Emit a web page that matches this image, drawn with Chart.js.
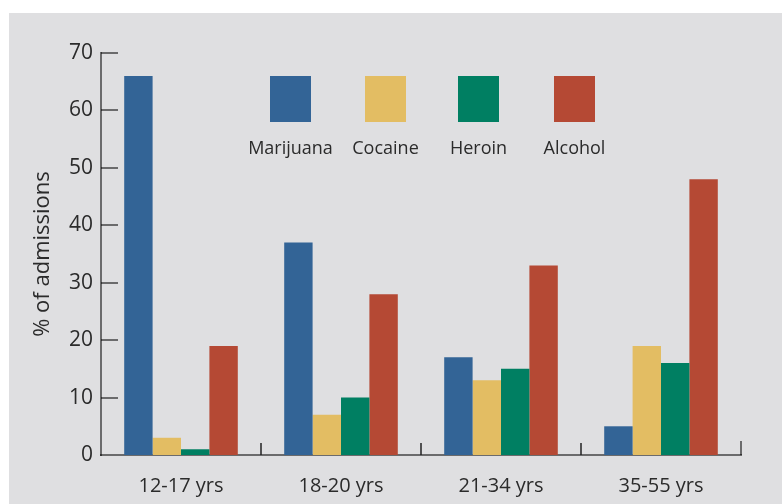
<!DOCTYPE html>
<html>
<head>
<meta charset="utf-8">
<script src="https://cdn.jsdelivr.net/npm/chart.js@4/dist/chart.umd.min.js"></script>
<style>
  html, body { margin: 0; padding: 0; background: #ffffff; }
  #wrap { width: 782px; height: 504px; }
</style>
</head>
<body>
<div id="wrap"><canvas id="admChart"></canvas></div>
<script>
// data
var ageGroups = ['12-17 yrs', '18-20 yrs', '21-34 yrs', '35-55 yrs'];
var marijuana = [66, 37, 17, 5];
var cocaine   = [3, 7, 13, 19];
var heroin    = [1, 10, 15, 16];
var alcohol   = [19, 28, 33, 48];
var yTicks    = [0, 10, 20, 30, 40, 50, 60, 70];

var FONT = "'Open Sans', 'DejaVu Sans', sans-serif";
var AXIS = 'rgba(0,0,0,0.52)';

// grey panel behind everything
var panelPlugin = {
	id: 'panel',
	beforeDraw: function(chart) {
		var ctx = chart.ctx;
		ctx.save();
		ctx.fillStyle = '#dfdfe1';
		ctx.fillRect(9, 13, chart.width - 9, chart.height - 13);
		ctx.restore();
	}
};

// inward ticks on y, group separators on x
var ticksPlugin = {
	id: 'axisTicks',
	afterDatasetsDraw: function(chart) {
		var ctx = chart.ctx;
		var area = chart.chartArea;
		var y = chart.scales.y;
		var x = chart.scales.x;
		ctx.save();
		ctx.strokeStyle = AXIS;
		ctx.lineWidth = 2;
		yTicks.forEach(function(v) {
			if (v === 0) return;
			var py = Math.round(y.getPixelForValue(v));
			ctx.beginPath();
			ctx.moveTo(area.left, py);
			ctx.lineTo(area.left + 17, py);
			ctx.stroke();
		});
		ctx.strokeStyle = '#222';
		ctx.lineWidth = 1.5;
		for (var i = 0; i < ageGroups.length - 1; i++) {
			var px = (x.getPixelForValue(i) + x.getPixelForValue(i + 1)) / 2;
			ctx.beginPath();
			ctx.moveTo(px, area.bottom - 12);
			ctx.lineTo(px, area.bottom);
			ctx.stroke();
		}
		ctx.strokeStyle = AXIS;
		ctx.lineWidth = 2;
		ctx.beginPath();
		ctx.moveTo(area.right, area.bottom - 14);
		ctx.lineTo(area.right, area.bottom);
		ctx.stroke();
		ctx.restore();
	}
};

// legend: squares with label underneath
var legendPlugin = {
	id: 'boxLegend',
	afterDraw: function(chart) {
		var ctx = chart.ctx;
		var boxX = [270, 365, 458, 554];
		ctx.save();
		ctx.font = '18px ' + FONT;
		ctx.textAlign = 'center';
		ctx.textBaseline = 'middle';
		chart.data.datasets.forEach(function(ds, i) {
			ctx.fillStyle = ds.backgroundColor;
			ctx.fillRect(boxX[i], 76, 41, 46);
			ctx.fillStyle = '#2b2b2b';
			ctx.fillText(ds.label, boxX[i] + 20.5, 149);
		});
		ctx.restore();
	}
};

new Chart(document.getElementById('admChart'), {
	type: 'bar',
	data: {
		labels: ageGroups,
		datasets: [
			{ label: 'Marijuana', data: marijuana, backgroundColor: '#336496' },
			{ label: 'Cocaine',   data: cocaine,   backgroundColor: '#e3bd63' },
			{ label: 'Heroin',    data: heroin,    backgroundColor: '#007f62' },
			{ label: 'Alcohol',   data: alcohol,   backgroundColor: '#b54934' }
		]
	},
	plugins: [panelPlugin, ticksPlugin, legendPlugin],
	options: {
		responsive: true,
		maintainAspectRatio: false,
		animation: false,
		datasets: {
			bar: { categoryPercentage: 0.71, barPercentage: 1.0 }
		},
		layout: { padding: { top: 53, right: 41, left: 0, bottom: 0 } },
		plugins: {
			legend: { display: false },
			tooltip: { enabled: false }
		},
		scales: {
			x: {
				z: 1,
				grid: { display: false },
				border: { display: true, color: AXIS, width: 2 },
				ticks: {
					color: '#2b2b2b',
					font: { family: FONT, size: 20 },
					padding: 11
				},
				afterFit: function(scale) { scale.height = 49; }
			},
			y: {
				min: 0,
				max: 70,
				afterBuildTicks: function(scale) {
					scale.ticks = yTicks.map(function(v) { return { value: v }; });
				},
				grid: { display: false },
				border: { display: true, color: AXIS, width: 2 },
				ticks: {
					color: '#2b2b2b',
					font: { family: FONT, size: 21 },
					padding: 0
				},
				title: {
					display: true,
					text: '% of admissions',
					color: '#2b2b2b',
					font: { family: FONT, size: 22 },
					padding: { top: 30, bottom: 0 }
				},
				afterFit: function(scale) { scale.width = 101; }
			}
		}
	}
});
</script>
</body>
</html>
